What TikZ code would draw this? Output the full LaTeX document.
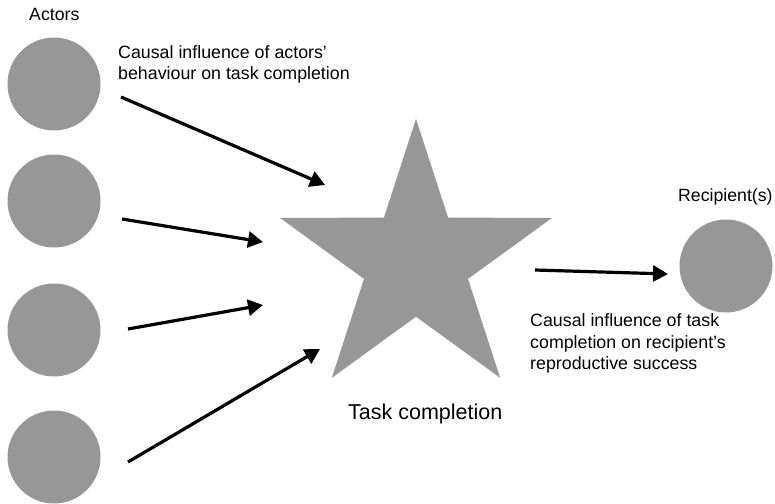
\documentclass[tikz,border=0pt]{standalone}
\usepackage{fontspec}
\setmainfont{Liberation Sans}
\usetikzlibrary{shapes.geometric,arrows.meta}
\definecolor{shapegray}{RGB}{151,151,151}
\begin{document}
\begin{tikzpicture}[x=1pt,y=-1pt,
        actor/.style={circle,fill=shapegray,inner sep=0pt,minimum size=93pt},
        task/.style={star,star points=5,star point ratio=2.618,fill=shapegray,inner sep=0pt,minimum size=286.4pt},
        arr/.style={line width=3.2pt,-{Triangle[length=15pt,width=16pt]}},
        lbl/.style={anchor=base west,inner sep=0pt,font=\fontsize{17.7}{21}\selectfont},
        note/.style={anchor=base west,inner sep=0pt,align=left,font=\fontsize{17.8}{21.5}\selectfont}]
                \useasboundingbox (0,0) rectangle (775,503);
                \node[actor](a1) at (54,84){};
                \node[actor](a2) at (54,201){};
                \node[actor](a3) at (54,330){};
                \node[actor](a4) at (54,457){};
                \node[actor](rec) at (726,266){};
                \node[task](task) at (416,262){};
                \node[lbl](actlbl) at (29,21){Actors};
                \node[lbl](reclbl) at (678,201){Recipient(s)};
                \node[lbl,font=\fontsize{21.5}{24}\selectfont](tasklbl) at (348,419){Task completion};
                % base of a multi-line node = its last line
                \node[note](note1) at (118,79.5){Causal influence of actors’\\behaviour on task completion};
                \node[note](note2) at (530,369.5){Causal influence of task\\completion on recipient’s\\reproductive success};
                % arrow ends
                \coordinate (a1out) at (121,97);
                \coordinate (a2out) at (122,219);
                \coordinate (a3out) at (128,329);
                \coordinate (a4out) at (128,462);
                \coordinate (t1in) at (325,185);
                \coordinate (t2in) at (263,242);
                \coordinate (t3in) at (263,305);
                \coordinate (t4in) at (320,349);
                \coordinate (tout) at (535,270);
                \coordinate (recin) at (668,274);
                \draw[arr](a1out) -- (t1in);
                \draw[arr](a2out) -- (t2in);
                \draw[arr](a3out) -- (t3in);
                \draw[arr](a4out) -- (t4in);
                \draw[arr](tout) -- (recin);
            \end{tikzpicture}
\end{document}
